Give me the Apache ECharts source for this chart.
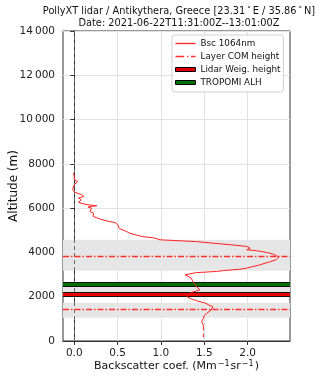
<!DOCTYPE html>
<html>
<head>
<meta charset="utf-8">
<script src="https://cdn.jsdelivr.net/npm/echarts@6/dist/echarts.min.js"></script>
<style>html,body{margin:0;padding:0;background:#fff}#c{width:320px;height:379px}</style>
</head>
<body>
<div id="c"></div>
<script>
// Backscatter profile (altitude m, value Mm-1 sr-1)
const bscAltitude = [7590,7450,7290,7200,7160,7060,6950,6830,6710,6610,6530,6460,6380,6260,6200,6150,6110,6080,6050,6000,5930,5850,5780,5700,5620,5550,5480,5400,5350,5260,5170,5080,5020,4950,4870,4800,4720,4650,4570,4490,4400,4340,4270,4190,4120,4080,4000,3940,3860,3790,3670,3580,3440,3290,3240,3180,3140,3090,3060,2990,2910,2840,2790,2680,2640,2460,2310,2190,2100,2000,1900,1820,1700,1630,1550,1480,1400,1330,1250,1150,1030,950,870,800,720,650];
const bscValue    = [-0.01,0.0,0.0,0.04,0.03,0.0,-0.01,-0.02,0.01,0.085,0.11,0.05,0.08,0.05,0.1,0.16,0.26,0.2,0.16,0.2,0.22,0.18,0.22,0.24,0.22,0.27,0.32,0.4,0.47,0.5,0.51,0.52,0.53,0.6,0.64,0.62,0.78,0.93,0.99,1.41,1.65,1.82,1.99,2.03,1.99,2.1,2.22,2.28,2.33,2.36,2.33,2.26,2.14,1.99,1.91,1.72,1.64,1.41,1.39,1.28,1.3,1.35,1.33,1.37,1.35,1.41,1.45,1.35,1.32,1.3,1.35,1.41,1.52,1.55,1.6,1.6,1.58,1.56,1.53,1.5,1.49,1.47,1.47,1.45,1.49,1.49];
// Lowest (overlap) part, drawn dashed
const lowAltitude = [650, 0];
const lowValue = [1.49, 1.49];
// Layers
const layerComHeights = [3810, 1430];
const layerBands = [[3170, 4570], [2000, 2680], [1050, 1730]];
const lidarWeigHeight = 2110;
const tropomiAlh = 2565;
// Axes
const xMin = -0.13, xMax = 2.49;
const xTicks = [0, 0.5, 1.0, 1.5, 2.0];
const yTicks = [0, 2000, 4000, 6000, 8000, 10000, 12000, 14000];
const yTickLabels = ['0','2000','4000','6000','8000','10\u2009000','12\u2009000','14\u2009000'];

const F = 'DejaVu Sans';
const chart = echarts.init(document.getElementById('c'));
const bscData = bscAltitude.map((a, i) => [bscValue[i], a]);
const lowData = lowAltitude.map((a, i) => [lowValue[i], a]);
const COM = '#ff3030';
const SOLID_ICON = 'path://M0,0H20V1.3H0Z';
const DASHDOT_ICON = 'path://M0,0H8.7V1.3H0Z M11.4,0H12.8V1.3H11.4Z M15.4,0H20V1.3H15.4Z';

chart.setOption({
  animation: false,
  textStyle: { fontFamily: F },
  title: {
    text: 'PollyXT lidar / Antikythera, Greece [23.31{s|°}E / 35.86{s|°}N]\nDate: 2021-06-22T11:31:00Z--13:01:00Z',
    left: 174, top: 1, textAlign: 'center',
    textStyle: { fontFamily: F, fontSize: 9.8, fontWeight: 'normal', color: '#111', lineHeight: 11.5,
      rich: { s: { fontSize: 7, verticalAlign: 'top', padding: [0, 2, 5, 2], fontFamily: F, color: '#111' } } }
  },
  grid: { left: 63, right: 30, top: 31, bottom: 38, outerBoundsMode: 'none', containLabel: false,
    show: true, borderColor: '#333', borderWidth: 1, backgroundColor: 'transparent' },
  xAxis: {
    type: 'value', min: xMin, max: xMax,
    name: 'Backscatter coef. (Mm{s|−1}sr{s|−1})', nameLocation: 'middle', nameGap: 19, nameMoveOverlap: false,
    nameTextStyle: { fontFamily: F, fontSize: 11, color: '#111',
      rich: { s: { fontFamily: F, fontSize: 8, color: '#111', verticalAlign: 'top', padding: [0, 1, 4, 1] } } },
    axisLine: { show: true, onZero: false, lineStyle: { color: '#333' } },
    axisTick: { show: true, length: 4, customValues: xTicks, lineStyle: { color: '#333' } },
    axisLabel: { customValues: xTicks, formatter: v => v.toFixed(1), fontSize: 10.5, color: '#222', margin: 7, fontFamily: F },
    splitLine: { show: true, lineStyle: { color: '#e2e2e2', width: 1 } }
  },
  yAxis: {
    type: 'value', min: 0, max: 14000, interval: 2000,
    name: 'Altitude (m)', nameLocation: 'middle', nameGap: 43, nameMoveOverlap: false,
    nameTextStyle: { fontFamily: F, fontSize: 12, color: '#111' },
    axisLine: { show: true, lineStyle: { color: '#333' } },
    axisTick: { show: true, length: 4, lineStyle: { color: '#333' } },
    axisLabel: { formatter: v => yTickLabels[yTicks.indexOf(v)], fontSize: 10.5, color: '#222', margin: 8, fontFamily: F },
    splitLine: { show: true, lineStyle: { color: '#e2e2e2', width: 1 } }
  },
  legend: {
    orient: 'vertical', left: 172, top: 35, padding: [4, 3, 5, 3], itemGap: 4,
    itemWidth: 20, itemHeight: 4, symbolKeepAspect: true,
    backgroundColor: 'rgba(255,255,255,0.85)', borderColor: '#d0d0d0', borderWidth: 1, borderRadius: 3,
    textStyle: { fontFamily: F, fontSize: 8.8, color: '#111', padding: [0, 0, 0, 0] },
    data: [
      { name: 'Bsc 1064nm', icon: SOLID_ICON, itemStyle: { color: '#ff2020', borderWidth: 0 } },
      { name: 'Layer COM height', icon: DASHDOT_ICON, itemStyle: { color: COM, borderWidth: 0 } },
      { name: 'Lidar Weig. height', icon: 'rect', itemStyle: { color: '#e00000', borderColor: '#000', borderWidth: 1 } },
      { name: 'TROPOMI ALH', icon: 'rect', itemStyle: { color: '#007000', borderColor: '#000', borderWidth: 1 } }
    ]
  },
  series: [
    {
      name: 'bands', type: 'line', data: [], silent: true, z: 1,
      markArea: { silent: true, itemStyle: { color: '#e6e6e6' },
        data: layerBands.map(b => [{ yAxis: b[0] }, { yAxis: b[1] }]) }
    },
    {
      name: 'zero', type: 'line', data: [], silent: true, z: 2,
      markLine: { silent: true, symbol: 'none', label: { show: false },
        lineStyle: { color: '#666', type: [4, 3], width: 1 },
        data: [{ xAxis: 0 }] }
    },
    {
      name: 'Bsc 1064nm', type: 'line', data: bscData, symbol: 'none', z: 5,
      lineStyle: { color: '#ff2020', width: 1 }, itemStyle: { color: '#ff2020' }
    },
    {
      name: 'low', type: 'line', data: lowData, symbol: 'none', z: 5,
      lineStyle: { color: '#ff2020', width: 1, type: [4, 3] }
    },
    {
      name: 'Layer COM height', type: 'line', data: [], symbol: 'none', z: 4,
      lineStyle: { color: COM, width: 1, type: [6, 2, 1.5, 2] }, itemStyle: { color: COM },
      markLine: { silent: true, symbol: 'none', label: { show: false },
        lineStyle: { color: COM, width: 1.3, type: [6, 2, 1.5, 2] },
        data: layerComHeights.map(h => ({ yAxis: h })) }
    },
    {
      name: 'Lidar Weig. height', type: 'line', data: [], symbol: 'none', z: 6,
      itemStyle: { color: '#e00000' }, lineStyle: { color: '#e00000' },
      markLine: { silent: true, symbol: 'none', label: { show: false },
        data: [
          { yAxis: lidarWeigHeight, lineStyle: { color: '#111', width: 5, type: 'solid' } },
          { yAxis: lidarWeigHeight, lineStyle: { color: '#ee0000', width: 3, type: 'solid' } }
        ] }
    },
    {
      name: 'TROPOMI ALH', type: 'line', data: [], symbol: 'none', z: 6,
      itemStyle: { color: '#007000' }, lineStyle: { color: '#007000' },
      markLine: { silent: true, symbol: 'none', label: { show: false },
        data: [
          { yAxis: tropomiAlh, lineStyle: { color: '#111', width: 5, type: 'solid' } },
          { yAxis: tropomiAlh, lineStyle: { color: '#007000', width: 3, type: 'solid' } }
        ] }
    }
  ]
});
</script>
</body>
</html>
